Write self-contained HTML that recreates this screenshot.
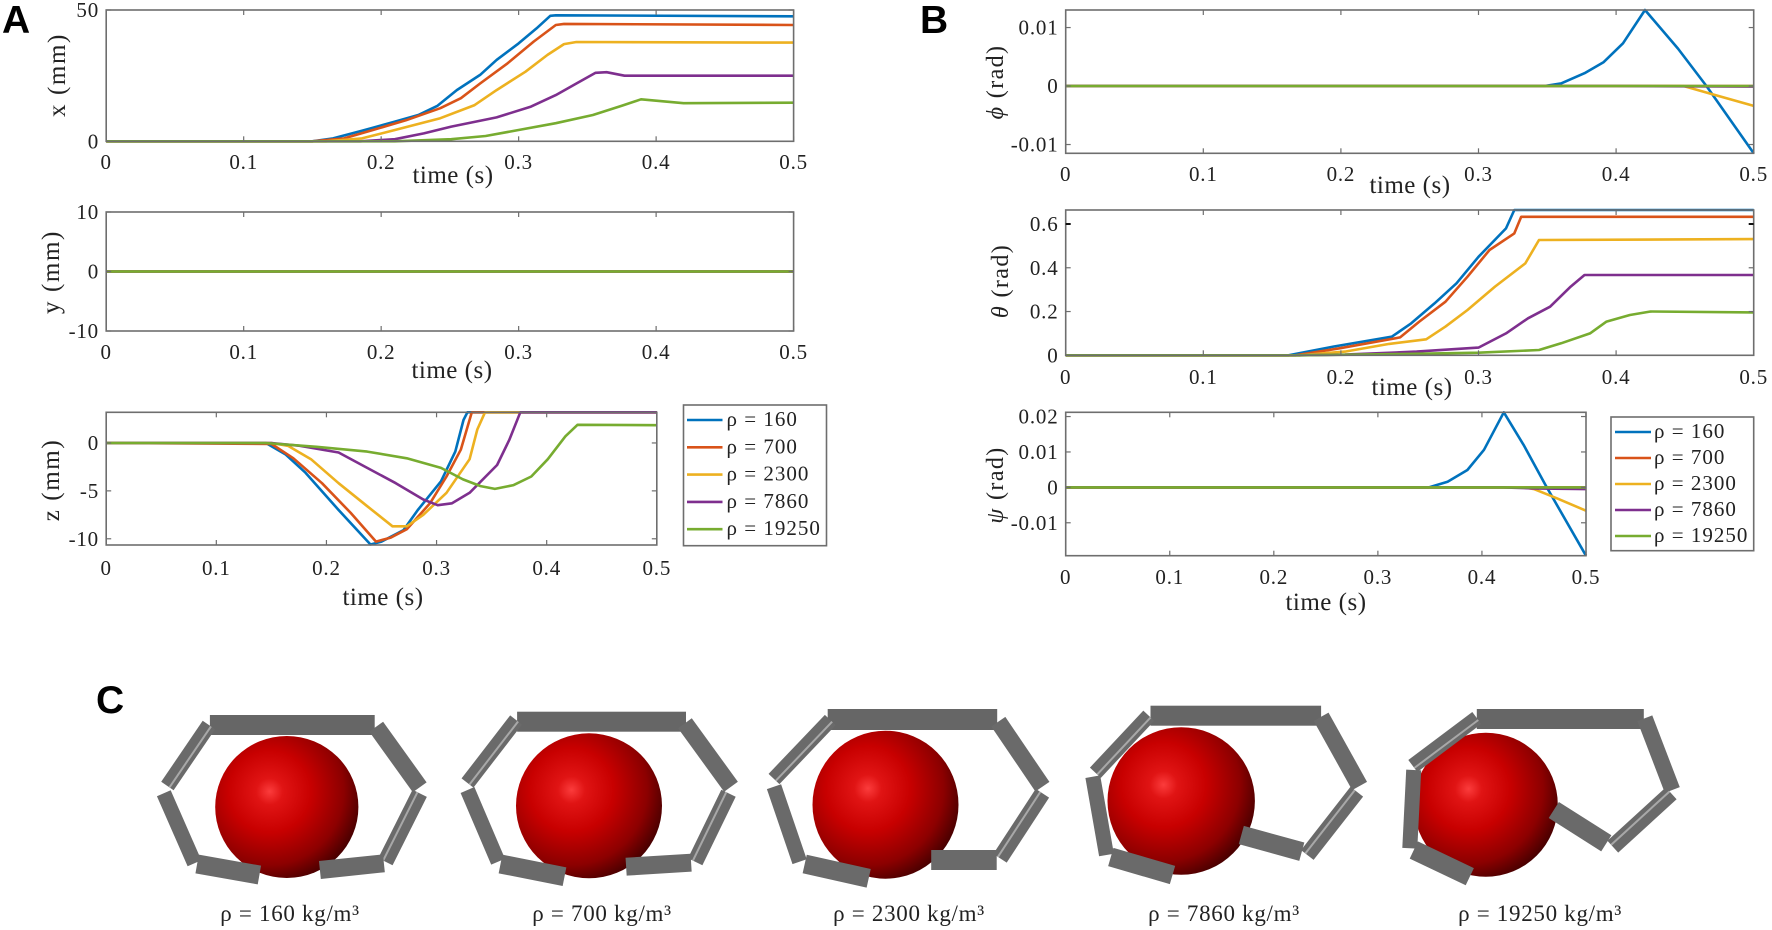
<!DOCTYPE html>
<html lang="en">
<head>
<meta charset="utf-8">
<title>Sphere capture trajectories</title>
<style>
html,body{margin:0;padding:0;background:#fff;width:1772px;height:930px;overflow:hidden}
svg{display:block}
text{font-family:"Liberation Serif","DejaVu Serif",serif;fill:#222}
.tick{font-size:21px;letter-spacing:.8px}
.lab{font-size:25px;letter-spacing:.5px}
.ylab{font-size:25px;letter-spacing:1.6px}
.ylabb{font-size:24px;letter-spacing:1.4px}
.leg{font-size:21px;letter-spacing:1px}
.cap{font-size:23px;letter-spacing:.7px}
.panel{font-family:"Liberation Sans",sans-serif;font-weight:700;font-size:39px;fill:#000}
</style>
</head>
<body>
<svg id="fig" xmlns="http://www.w3.org/2000/svg" width="1772" height="930" viewBox="0 0 1772 930">
<defs>
<radialGradient id="ball" cx="0.38" cy="0.39" r="0.72" fx="0.38" fy="0.39">
<stop offset="0" stop-color="#fb3c3c"/>
<stop offset="0.13" stop-color="#e01414"/>
<stop offset="0.4" stop-color="#c80000"/>
<stop offset="0.72" stop-color="#8c0000"/>
<stop offset="1" stop-color="#2c0000"/>
</radialGradient>
</defs>
<text class="panel" x="2" y="33">A</text>
<text class="panel" x="920" y="33">B</text>
<text class="panel" x="96" y="713">C</text>

<text class="ylab" transform="translate(65,75) rotate(-90)" text-anchor="middle">x  (mm)</text>
<text class="ylab" transform="translate(59,272) rotate(-90)" text-anchor="middle">y  (mm)</text>
<text class="ylab" transform="translate(59,480) rotate(-90)" text-anchor="middle">z  (mm)</text>
<text class="ylabb" transform="translate(1003,82) rotate(-90)" text-anchor="middle"><tspan font-style="italic">ϕ</tspan> (rad)</text>
<text class="ylabb" transform="translate(1008,281) rotate(-90)" text-anchor="middle"><tspan font-style="italic">θ</tspan> (rad)</text>
<text class="ylabb" transform="translate(1003,485) rotate(-90)" text-anchor="middle"><tspan font-style="italic">ψ</tspan> (rad)</text>

<text class="lab" x="453" y="183" text-anchor="middle">time (s)</text>
<text class="lab" x="452" y="378" text-anchor="middle">time (s)</text>
<text class="lab" x="383" y="605" text-anchor="middle">time (s)</text>
<text class="lab" x="1410" y="193" text-anchor="middle">time (s)</text>
<text class="lab" x="1412" y="395" text-anchor="middle">time (s)</text>
<text class="lab" x="1326" y="610" text-anchor="middle">time (s)</text>

<text class="cap" x="290" y="921" text-anchor="middle">ρ = 160 kg/m³</text>
<text class="cap" x="602" y="921" text-anchor="middle">ρ = 700 kg/m³</text>
<text class="cap" x="909" y="921" text-anchor="middle">ρ = 2300 kg/m³</text>
<text class="cap" x="1224" y="921" text-anchor="middle">ρ = 7860 kg/m³</text>
<text class="cap" x="1540" y="921" text-anchor="middle">ρ = 19250 kg/m³</text>
</svg>
<script>
// ---------- chart data ----------
const legendLabels = ['160','700','2300','7860','19250'];
const timeTicks = [0,0.1,0.2,0.3,0.4,0.5];
const timeTickLabels = ['0','0.1','0.2','0.3','0.4','0.5'];

const xTicks = [0,50];
const xTickLabels = ['0','50'];
const xT160 = [0,0.15,0.165,0.186,0.21,0.227,0.241,0.255,0.272,0.284,0.3,0.313,0.323,0.327,0.5];
const xV160 = [0,0,1.1,4,7.5,10,13.5,19.5,25.3,31,37.3,43,47.8,48,47.6];
const xT700 = [0,0.15,0.173,0.194,0.218,0.243,0.258,0.272,0.292,0.311,0.327,0.333,0.5];
const xV700 = [0,0,1.1,4.3,8,12.6,16.4,22,29.7,38,44.3,44.7,44.3];
const xT2300 = [0,0.16,0.186,0.21,0.243,0.268,0.284,0.305,0.321,0.333,0.342,0.5];
const xV2300 = [0,0,1.1,4.3,8.8,13.8,19.5,26.5,32.9,37,37.8,37.6];
const xT7860 = [0,0.185,0.21,0.231,0.251,0.284,0.309,0.327,0.342,0.356,0.364,0.377,0.5];
const xV7860 = [0,0,0.8,3,5.6,9.1,13.2,17.6,22,26.1,26.3,25,25];
const xT19250 = [0,0.21,0.251,0.276,0.3,0.327,0.354,0.375,0.389,0.42,0.5];
const xV19250 = [0,0,0.8,2,4.3,6.9,10,13.5,16,14.5,14.7];

const yTicks = [-10,0,10];
const yTickLabels = ['-10','0','10'];
const yT = [0,0.5];
const yV160 = [0,0];
const yV700 = [0,0];
const yV2300 = [0,0];
const yV7860 = [0,0];
const yV19250 = [0,0];

const zTicks = [-10,-5,0];
const zTickLabels = ['-10','-5','0'];
const zT160 = [0,0.145,0.163,0.181,0.211,0.24,0.25,0.27,0.283,0.304,0.317,0.3245,0.328,0.5];
const zV160 = [0,0,-1.2,-3.1,-7,-10.6,-10.3,-9.1,-7,-4,-0.9,2.4,3.2,3.2];
const zT700 = [0,0.15,0.17,0.196,0.222,0.245,0.258,0.273,0.294,0.309,0.322,0.332,0.5];
const zV700 = [0,-0.1,-1.6,-4.2,-7.3,-10.3,-9.9,-9,-6.3,-3.5,-0.7,3.2,3.2];
const zT2300 = [0,0.15,0.165,0.186,0.211,0.237,0.26,0.273,0.288,0.309,0.33,0.337,0.344,0.5];
const zV2300 = [0,0,-0.3,-1.7,-4.2,-6.6,-8.7,-8.7,-7.5,-5.2,-1.7,1.4,3.2,3.2];
const zT7860 = [0,0.15,0.176,0.211,0.237,0.263,0.288,0.301,0.314,0.33,0.355,0.366,0.376,0.5];
const zV7860 = [0,0,-0.3,-1,-2.6,-4.2,-5.9,-6.5,-6.3,-5.2,-2.3,0.3,3.2,3.2];
const zT19250 = [0,0.145,0.191,0.237,0.273,0.304,0.324,0.34,0.353,0.37,0.386,0.401,0.417,0.428,0.5];
const zV19250 = [0,0,-0.4,-0.9,-1.6,-2.6,-3.8,-4.5,-4.8,-4.4,-3.5,-1.7,0.7,1.9,1.85];

const phiTicks = [-0.01,0,0.01];
const phiTickLabels = ['-0.01','0','0.01'];
const phiT160 = [0,0.348,0.36,0.377,0.391,0.405,0.421,0.445,0.466,0.5];
const phiV160 = [0,0,0.00045,0.0022,0.0041,0.0073,0.013,0.0064,-0.0001,-0.0115];
const phiT700 = [0,0.5];
const phiV700 = [0,0];
const phiT2300 = [0,0.449,0.47,0.5];
const phiV2300 = [0,0,-0.0014,-0.0034];
const phiT7860 = [0,0.4,0.5];
const phiV7860 = [0,0,-0.0001];
const phiT19250 = [0,0.5];
const phiV19250 = [0,0];

const thetaTicks = [0,0.2,0.4,0.6];
const thetaTickLabels = ['0','0.2','0.4','0.6'];
const thetaT160 = [0,0.162,0.195,0.237,0.251,0.268,0.284,0.3,0.32,0.326,0.5];
const thetaV160 = [0,0,0.04,0.085,0.146,0.237,0.329,0.45,0.58,0.664,0.664];
const thetaT700 = [0,0.167,0.199,0.243,0.257,0.276,0.292,0.308,0.326,0.331,0.5];
const thetaV700 = [0,0,0.032,0.082,0.154,0.245,0.359,0.481,0.557,0.633,0.633];
const thetaT2300 = [0,0.17,0.203,0.235,0.262,0.276,0.292,0.312,0.334,0.344,0.5];
const thetaV2300 = [0,0,0.017,0.052,0.073,0.131,0.207,0.314,0.42,0.527,0.531];
const thetaT7860 = [0,0.17,0.203,0.255,0.3,0.32,0.336,0.352,0.367,0.377,0.5];
const thetaV7860 = [0,0,0.003,0.017,0.035,0.1,0.169,0.222,0.314,0.367,0.367];
const thetaT19250 = [0,0.17,0.243,0.3,0.344,0.36,0.381,0.393,0.41,0.425,0.5];
const thetaV19250 = [0,0,0.006,0.012,0.024,0.055,0.1,0.154,0.184,0.2,0.196];

const psiTicks = [-0.01,0,0.01,0.02];
const psiTickLabels = ['-0.01','0','0.01','0.02'];
const psiT160 = [0,0.349,0.367,0.386,0.402,0.421,0.44,0.461,0.5];
const psiV160 = [0,0,0.0016,0.0049,0.0106,0.0212,0.012,0.0007,-0.0193];
const psiT700 = [0,0.5];
const psiV700 = [0,0];
const psiT2300 = [0,0.44,0.45,0.472,0.5];
const psiV2300 = [0,0,-0.0005,-0.0031,-0.0066];
const psiT7860 = [0,0.42,0.45,0.5];
const psiV7860 = [0,0,-0.0003,-0.0005];
const psiT19250 = [0,0.5];
const psiV19250 = [0,0];

const seriesColors = ['#0072BD','#D95319','#EDB120','#7E2F8E','#77AC30'];
const seriesNames = ['rho-160','rho-700','rho-2300','rho-7860','rho-19250'];

const NS = 'http://www.w3.org/2000/svg';
const fig = document.getElementById('fig');

function scale(d0,d1,r0,r1){ return v => r0 + (v-d0)/(d1-d0)*(r1-r0); }

function drawChart(name, box, dom, ticks, tickLabels, labelY, labelRight, series){
  const g = document.createElementNS(NS,'g');
  
  
  fig.appendChild(g);
  const sx = scale(0,0.5,box.l,box.r);
  const sy = scale(dom[0],dom[1],box.b,box.t);
  // series
  series.forEach((s,i) => {
    const p = document.createElementNS(NS,'polyline');
    
    
    p.setAttribute('points', s[0].map((t,k) => sx(t).toFixed(1)+','+sy(s[1][k]).toFixed(1)).join(' '));
    p.setAttribute('fill','none');
    p.setAttribute('stroke',seriesColors[i]);
    p.setAttribute('stroke-width','2.6');
    p.setAttribute('stroke-linejoin','round');
    g.appendChild(p);
  });
  // frame
  const f = document.createElementNS(NS,'rect');
  
  
  f.setAttribute('x',box.l); f.setAttribute('y',box.t);
  f.setAttribute('width',box.r-box.l); f.setAttribute('height',box.b-box.t);
  f.setAttribute('fill','none'); f.setAttribute('stroke','#6e6e6e'); f.setAttribute('stroke-width','1.6');
  g.appendChild(f);
  // x ticks
  timeTicks.forEach((t,i) => {
    const x = sx(t);
    [[box.b,box.b-5],[box.t,box.t+5]].forEach(e => {
      const m = document.createElementNS(NS,'line');
      
      
      m.setAttribute('x1',x); m.setAttribute('x2',x); m.setAttribute('y1',e[0]); m.setAttribute('y2',e[1]);
      m.setAttribute('stroke','#6e6e6e'); m.setAttribute('stroke-width','1.2');
      g.appendChild(m);
    });
    const tx = document.createElementNS(NS,'text');
    
    
    tx.setAttribute('class','tick');
    tx.setAttribute('x',x); tx.setAttribute('y',labelY); tx.setAttribute('text-anchor','middle');
    tx.textContent = timeTickLabels[i];
    g.appendChild(tx);
  });
  // y ticks
  ticks.forEach((v,i) => {
    const y = sy(v);
    [[box.l,box.l+5],[box.r,box.r-5]].forEach(e => {
      const m = document.createElementNS(NS,'line');
      
      
      m.setAttribute('x1',e[0]); m.setAttribute('x2',e[1]); m.setAttribute('y1',y); m.setAttribute('y2',y);
      m.setAttribute('stroke', name === 'theta' && v === 0.6 ? '#111' : '#6e6e6e');
      m.setAttribute('stroke-width', name === 'theta' && v === 0.6 ? '2' : '1.2');
      g.appendChild(m);
    });
    const tx = document.createElementNS(NS,'text');
    
    
    tx.setAttribute('class','tick');
    tx.setAttribute('x',labelRight); tx.setAttribute('y',y+7); tx.setAttribute('text-anchor','end');
    tx.textContent = tickLabels[i];
    g.appendChild(tx);
  });
}

drawChart('x',{l:106.2,r:793.6,t:10,b:141.3},[0,50],xTicks,xTickLabels,169,99,
  [[xT160,xV160],[xT700,xV700],[xT2300,xV2300],[xT7860,xV7860],[xT19250,xV19250]]);
drawChart('y',{l:106.2,r:793.6,t:212,b:331},[-10,10],yTicks,yTickLabels,359,99,
  [[yT,yV160],[yT,yV700],[yT,yV2300],[yT,yV7860],[yT,yV19250]]);
drawChart('z',{l:106.2,r:656.8,t:412.3,b:545},[-10.65,3.2],zTicks,zTickLabels,575,99,
  [[zT160,zV160],[zT700,zV700],[zT2300,zV2300],[zT7860,zV7860],[zT19250,zV19250]]);
drawChart('phi',{l:1065.7,r:1753.7,t:10,b:153.3},[-0.0115,0.013],phiTicks,phiTickLabels,181,1058.5,
  [[phiT160,phiV160],[phiT700,phiV700],[phiT2300,phiV2300],[phiT7860,phiV7860],[phiT19250,phiV19250]]);
drawChart('theta',{l:1065.7,r:1753.7,t:210,b:355.3},[0,0.664],thetaTicks,thetaTickLabels,384,1058.5,
  [[thetaT160,thetaV160],[thetaT700,thetaV700],[thetaT2300,thetaV2300],[thetaT7860,thetaV7860],[thetaT19250,thetaV19250]]);
drawChart('psi',{l:1065.7,r:1586,t:412.3,b:555.7},[-0.0193,0.0212],psiTicks,psiTickLabels,584,1058.5,
  [[psiT160,psiV160],[psiT700,psiV700],[psiT2300,psiV2300],[psiT7860,psiV7860],[psiT19250,psiV19250]]);

// ---------- legends ----------
function drawLegend(name, x, y, w, h, lineX0, lineX1, textX, rowY0, rowStep){
  const g = document.createElementNS(NS,'g');
  
  
  fig.appendChild(g);
  const r = document.createElementNS(NS,'rect');
  
  
  r.setAttribute('x',x); r.setAttribute('y',y); r.setAttribute('width',w); r.setAttribute('height',h);
  r.setAttribute('fill','#fff'); r.setAttribute('stroke','#6e6e6e'); r.setAttribute('stroke-width','1.6');
  g.appendChild(r);
  legendLabels.forEach((lab,i) => {
    const cy = rowY0 + i*rowStep;
    const l = document.createElementNS(NS,'line');
    
    
    l.setAttribute('x1',lineX0); l.setAttribute('x2',lineX1); l.setAttribute('y1',cy); l.setAttribute('y2',cy);
    l.setAttribute('stroke',seriesColors[i]); l.setAttribute('stroke-width','2.6');
    g.appendChild(l);
    const t = document.createElementNS(NS,'text');
    
    
    t.setAttribute('class','leg');
    t.setAttribute('x',textX); t.setAttribute('y',cy+6);
    t.textContent = 'ρ = ' + lab;
    g.appendChild(t);
  });
}
drawLegend('legend-a',683.5,405,143,140.7,687,722.5,726.5,420,27.3);
drawLegend('legend-b',1611,417,142.7,133.7,1615,1651,1654,432,26);

// ---------- robots (panel C) ----------
const robots = [
 {dx:-0.6,c:[287.4,807,71.6,71],top:[210.5,715,164.8,20],seg:[[209.5,725,168,786,15],[376.8,726.7,420.3,787.3,17],[164.4,793.3,195.1,863.3,15],[420.3,793.3,386,861.7,16],[197.7,864,260,875,19],[320.5,870,384.5,863.3,18]]},
 {dx:-1.5,c:[590.5,805.8,73,72.5],top:[518.6,711.7,168.9,20],seg:[[517.6,720,469,783,15],[686.4,723.3,732.5,786.7,17],[469,790,499.6,861.7,15],[730,793.3,696.7,861.7,16],[502,864,566,876.7,19],[627.6,866.7,692.6,862.7,18]]},
 {dx:-2,c:[887.5,804.7,73,74],top:[829.7,709,169.5,21],seg:[[832.3,720,776,779,15],[1000.3,721.7,1044.4,786.7,17],[776,786.7,801.6,861.7,15],[1044.4,793.3,1002,858.3,16],[806.7,864,870.7,878.3,19],[933.2,860,998.7,860,20]]},
 {dx:-1.2,c:[1182.4,801,73.7,73.8],top:[1151.7,705.7,170.6,20],seg:[[1150,715.7,1096.6,772.7,15],[1322.3,716.7,1360.8,786,17],[1094,776.7,1107.7,855,15],[1358,791.7,1308.5,855,16],[1112,857,1173.7,875,19],[1242.5,835,1303,851.7,19]]},
 {dx:-2.2,c:[1488,804.7,72,72],top:[1479,709,167,20],seg:[[1479,718,1415,766,15],[1647,718.3,1674.5,790,16],[1415.9,770,1412,848.3,15],[1673.4,793.3,1615,846.7,16],[1416,850,1472,876.7,19],[1556,810,1608.5,843.3,19]]}
];
const robotNames = ['160','700','2300','7860','19250'];
robots.forEach((rb,ri) => {
  const g = document.createElementNS(NS,'g');
  
  
  g.setAttribute('transform','translate(' + rb.dx + ',0)');
  fig.appendChild(g);
  const e = document.createElementNS(NS,'ellipse');
  
  
  e.setAttribute('cx',rb.c[0]); e.setAttribute('cy',rb.c[1]); e.setAttribute('rx',rb.c[2]); e.setAttribute('ry',rb.c[3]);
  e.setAttribute('fill','url(#ball)');
  g.appendChild(e);
  const t = document.createElementNS(NS,'rect');
  
  
  t.setAttribute('x',rb.top[0]); t.setAttribute('y',rb.top[1]); t.setAttribute('width',rb.top[2]); t.setAttribute('height',rb.top[3]);
  t.setAttribute('fill','#666');
  g.appendChild(t);
  rb.seg.forEach((s,si) => {
    const l = document.createElementNS(NS,'line');
    
    
    l.setAttribute('x1',s[0]); l.setAttribute('y1',s[1]); l.setAttribute('x2',s[2]); l.setAttribute('y2',s[3]);
    l.setAttribute('stroke','#6a6a6a'); l.setAttribute('stroke-width',s[4]);
    g.appendChild(l);
    if(si===0||si===3){
      // thin specular streak running along the upper-outer part of the tube
      const dx = s[2]-s[0], dy = s[3]-s[1], len = Math.hypot(dx,dy);
      const off = si===0 ? -2.5 : 2.5;
      const ox = -dy/len*off, oy = dx/len*off;
      const h = document.createElementNS(NS,'line');
      
      
      h.setAttribute('x1',s[0]+ox); h.setAttribute('y1',s[1]+oy); h.setAttribute('x2',s[2]+ox); h.setAttribute('y2',s[3]+oy);
      h.setAttribute('stroke','#a8a8a8'); h.setAttribute('stroke-width','2');
      g.appendChild(h);
    }
  });
});
</script>
</body>
</html>
